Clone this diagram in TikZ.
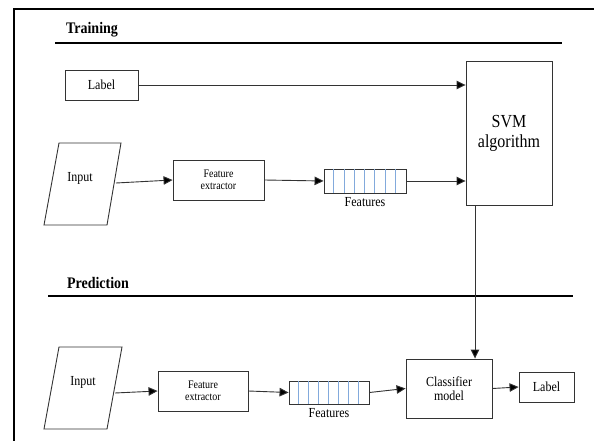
\documentclass[tikz,border=0pt]{standalone}
\usepackage{fontspec}
\setmainfont{Liberation Serif}
\usetikzlibrary{arrows.meta,calc}
\newcommand{\vs}[1]{\scalebox{1}[1.15]{#1}}
\tikzset{
  box/.style={draw=black!80, line width=0.9pt, rectangle, inner sep=0pt, align=center},
  small/.style={font=\fontsize{10}{12}\selectfont},
  mid/.style={font=\fontsize{12}{14}\selectfont},
  arr/.style={draw=black!80, line width=0.9pt, -{Triangle[length=9pt,width=8.5pt,fill=black]}},
  head/.style={font=\bfseries\fontsize{14}{16}\selectfont, inner sep=0pt},
  rule/.style={line width=2.6pt, black},
  blue/.style={draw={rgb,255:red,130;green,170;blue,220}, line width=0.7pt}
}
\begin{document}
\begin{tikzpicture}[x=1pt,y=-1pt]
\useasboundingbox (0,0) rectangle (594,441);
% frame
\draw[line width=2pt] (14,441) -- (14,9) -- (594,9);
% headings
\node[head] (htrain) at (92,30) {\vs{Training}};
\draw[rule] (55,43) -- (562,43);
\node[head] (hpred) at (98,283) {\vs{Prediction}};
\draw[rule] (48,296) -- (573,296);

% ---------- Training ----------
\node[box, mid, minimum width=73pt, minimum height=30pt] (lab1) at (101.5,85) {\vs{Label}};
\node[box, minimum width=86pt, minimum height=144pt, font=\fontsize{16}{19}\selectfont] (svm) at (509,133) {\vs{SVM}\\[1pt]\vs{algorithm}};
\draw[draw=black!80, line width=0.9pt] (44,225) -- (59,143) -- (121,143) -- (107,225) -- cycle;
\node[mid] (in1) at (80,178) {\vs{Input}};
\coordinate (in1o) at (116,183);
\node[box, small, minimum width=91pt, minimum height=40pt] (fe1) at (218.5,180) {\vs{Feature}\\\vs{extractor}};
\node[box, minimum width=82pt, minimum height=24pt] (ft1) at (365,181) {};
\foreach \i in {1,...,7} \draw[blue] ($(ft1.north west)+(\i*82/8,0)$) -- ($(ft1.south west)+(\i*82/8,0)$);
\node[mid, anchor=north, inner sep=0pt] (ft1l) at (365,197) {\vs{Features}};

\draw[arr] (lab1.east) -- (lab1.east -| svm.west);
\draw[arr] (in1o) -- (fe1.west);
\draw[arr] (fe1.east) -- (ft1.west);
\draw[arr] (ft1.east) -- (ft1.east -| svm.west);

% ---------- Prediction ----------
\draw[draw=black!80, line width=0.9pt] (44,429) -- (59,347) -- (122,347) -- (107,429) -- cycle;
\node[mid] (in2) at (83,382) {\vs{Input}};
\coordinate (in2o) at (115,393);
\node[box, small, minimum width=90pt, minimum height=40pt] (fe2) at (203,391) {\vs{Feature}\\\vs{extractor}};
\node[box, minimum width=80pt, minimum height=23pt] (ft2) at (329,392.5) {};
\foreach \i in {1,...,7} \draw[blue] ($(ft2.north west)+(\i*80/8,0)$) -- ($(ft2.south west)+(\i*80/8,0)$);
\node[mid, anchor=north, inner sep=0pt] (ft2l) at (329,408) {\vs{Features}};
\node[box, mid, minimum width=86pt, minimum height=59pt] (clf) at (449,388.5) {\vs{Classifier}\\\vs{model}};
\node[box, mid, minimum width=55pt, minimum height=30pt] (lab2) at (546.5,387) {\vs{Label}};

\draw[arr] (in2o) -- (fe2.west);
\draw[arr] (fe2.east) -- (ft2.west);
\draw[arr] (ft2.east) -- (clf.west);
\draw[arr] (clf.east) -- (lab2.west);
\coordinate (svmo) at ($(svm.south)+(-34,0)$);
\draw[arr] (svmo) -- (svmo |- clf.north);
\end{tikzpicture}
\end{document}
